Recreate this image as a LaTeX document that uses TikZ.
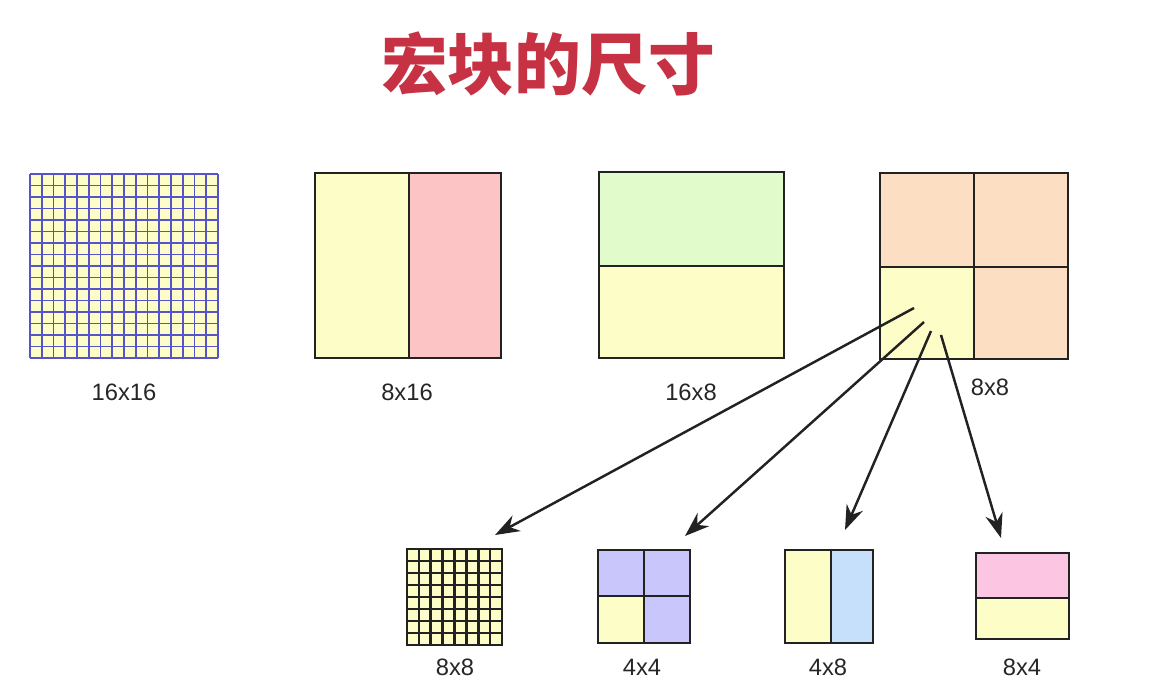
\documentclass[tikz,border=0pt]{standalone}
\usepackage{fontspec}
\setmainfont{Liberation Sans}
\newfontfamily\cjk{Noto Sans CJK SC}
\usetikzlibrary{arrows.meta}

\definecolor{mbyellow}{HTML}{FDFDC8}
\definecolor{mbpink}{HTML}{FCC4C4}
\definecolor{mbgreen}{HTML}{E2FBCB}
\definecolor{mbpeach}{HTML}{FCDEC2}
\definecolor{mbviolet}{HTML}{C8C6FB}
\definecolor{mbblue}{HTML}{C6E0FB}
\definecolor{mbrose}{HTML}{FCC6E2}
\definecolor{mbgrid}{HTML}{5654C8}
\definecolor{mbtitle}{HTML}{C63243}
\definecolor{mbline}{HTML}{222222}

\tikzset{
  blockline/.style = {draw=mbline, line width=1.6pt},
  sizelabel/.style = {font=\fontsize{13.5}{16}\selectfont, text=black!85},
  split/.style = {-{Stealth[length=14pt,width=10pt]}, line width=1.4pt, draw=mbline},
}

\begin{document}
\begin{tikzpicture}[x=0.02cm, y=-0.02cm]
        \useasboundingbox (0,0) rectangle (1149,698);

        % title
        \node[text=mbtitle, font=\cjk\bfseries\fontsize{38}{40}\selectfont] (title) at (548,64) {宏块的尺寸};

        % 16x16
        \fill[mbyellow] (30,174) rectangle (218,358);
        \foreach \i in {0,...,16} {
            \draw[mbgrid, line width=1.1pt] ({30+\i*11.75},174) -- ({30+\i*11.75},358);
            \draw[mbgrid, line width=1.1pt] (30,{174+\i*11.5}) -- (218,{174+\i*11.5});
        }
        \node[sizelabel] (l16x16) at (124,392) {16x16};

        % 8x16
        \fill[mbyellow] (315,173) rectangle (409,358);
        \fill[mbpink] (409,173) rectangle (501,358);
        \draw[blockline] (315,173) rectangle (501,358);
        \draw[blockline] (409,173) -- (409,358);
        \node[sizelabel] (l8x16) at (407,392) {8x16};

        % 16x8
        \fill[mbgreen] (599,172) rectangle (784,266);
        \fill[mbyellow] (599,266) rectangle (784,358);
        \draw[blockline] (599,172) rectangle (784,358);
        \draw[blockline] (599,266) -- (784,266);
        \node[sizelabel] (l16x8) at (691,392) {16x8};

        % 8x8
        \fill[mbpeach] (880,173) rectangle (1068,359);
        \fill[mbyellow] (880,267) rectangle (974,359);
        \draw[blockline] (880,173) rectangle (1068,359);
        \draw[blockline] (974,173) -- (974,359);
        \draw[blockline] (880,267) -- (1068,267);
        \node[sizelabel] (l8x8) at (990,387) {8x8};

        % sub-partitions of 8x8
        \fill[mbyellow] (407,549) rectangle (502,645);
        \foreach \i in {0,...,8} {
            \draw[mbline, line width=1.5pt] ({407+\i*11.875},549) -- ({407+\i*11.875},645);
            \draw[mbline, line width=1.5pt] (407,{549+\i*12}) -- (502,{549+\i*12});
        }
        \draw[blockline] (407,549) rectangle (502,645);
        \node[sizelabel] (s8x8) at (455,667) {8x8};

        \fill[mbviolet] (598,550) rectangle (690,643);
        \fill[mbyellow] (598,596) rectangle (644,643);
        \draw[blockline] (598,550) rectangle (690,643);
        \draw[blockline] (644,550) -- (644,643);
        \draw[blockline] (598,596) -- (690,596);
        \node[sizelabel] (s4x4) at (642,667) {4x4};

        \fill[mbyellow] (785,550) rectangle (831,643);
        \fill[mbblue] (831,550) rectangle (873,643);
        \draw[blockline] (785,550) rectangle (873,643);
        \draw[blockline] (831,550) -- (831,643);
        \node[sizelabel] (s4x8) at (828,667) {4x8};

        \fill[mbrose] (976,553) rectangle (1069,598);
        \fill[mbyellow] (976,598) rectangle (1069,639);
        \draw[blockline] (976,553) rectangle (1069,639);
        \draw[blockline] (976,598) -- (1069,598);
        \node[sizelabel] (s8x4) at (1022,667) {8x4};

        % arrows
        \coordinate (fromA) at (914,308);
        \coordinate (fromB) at (924,322);
        \coordinate (fromC) at (931,331);
        \coordinate (fromD) at (941,335);
        \coordinate (toA) at (495,535);
        \coordinate (toB) at (685,536);
        \coordinate (toC) at (845,530);
        \coordinate (toD) at (1001,538);
        \draw[split] (fromA) -- (toA);
        \draw[split] (fromB) -- (toB);
        \draw[split] (fromC) -- (toC);
        \draw[split] (fromD) -- (toD);
\end{tikzpicture}
\end{document}
